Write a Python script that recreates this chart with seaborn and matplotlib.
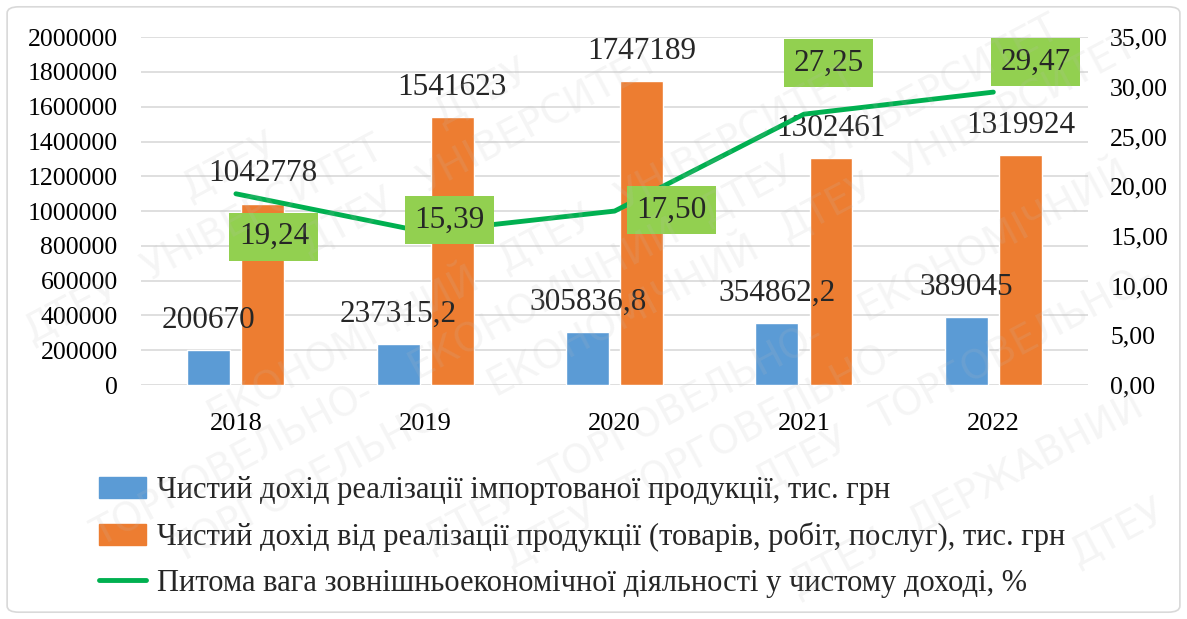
import numpy as np
import pandas as pd
import seaborn as sns
import matplotlib.pyplot as plt
from matplotlib.patches import FancyBboxPatch, Patch
from matplotlib.lines import Line2D
from matplotlib.ticker import FuncFormatter

# data
years = ["2018", "2019", "2020", "2021", "2022"]
imported = [200670, 237315.2, 305836.8, 354862.2, 389045]
total = [1042778, 1541623, 1747189, 1302461, 1319924]
share = [19.24, 15.39, 17.50, 27.25, 29.47]

name_imp = "Чистий дохід реалізації імпортованої продукції, тис. грн"
name_tot = "Чистий дохід від реалізації продукції (товарів, робіт, послуг), тис. грн"
name_share = "Питома вага зовнішньоекономічної діяльності у чистому доході, %"
watermark_words = ["ДТЕУ", "ДЕРЖАВНИЙ", "ДТЕУ", "ТОРГОВЕЛЬНО-", "ЕКОНОМІЧНИЙ",
                   "ДТЕУ", "УНІВЕРСИТЕТ"]

blue = "#5B9BD5"
orange = "#ED7D31"
green = "#00B050"
box_green = "#92D050"

df = pd.DataFrame({
    "year": years * 2,
    "value": imported + total,
    "series": [name_imp] * len(years) + [name_tot] * len(years),
})

sns.set_theme(style="white")
plt.rcParams["font.family"] = ["Liberation Serif", "DejaVu Serif"]

fig = plt.figure(figsize=(11.87, 6.19), dpi=100)
ax = fig.add_axes([0.119, 0.378, 0.7976, 0.562])

sns.barplot(data=df, x="year", y="value", hue="series", palette=[blue, orange],
            width=0.571, gap=0.205, ax=ax, legend=False, saturation=1)

ax.set_ylim(0, 2000000)
ax.set_yticks(np.arange(0, 2000001, 200000))
ax.yaxis.set_major_formatter(FuncFormatter(lambda v, p: f"{int(v)}"))
ax.grid(axis="y", color="#D9D9D9", linewidth=1.2)
ax.set_axisbelow(True)
for s in ax.spines.values():
    s.set_visible(False)
ax.set_xlabel("")
ax.set_ylabel("")
ax.tick_params(axis="y", length=0, pad=17, labelsize=18.5, labelcolor="black")
ax.tick_params(axis="x", length=0, pad=20, labelsize=19, labelcolor="black")

fmt = lambda v: (f"{v:.1f}".replace(".", ",") if v % 1 else f"{int(v)}")
ax.bar_label(ax.containers[0], labels=[fmt(v) for v in imported],
             padding=11, fontsize=22.5, family="Liberation Serif")
ax.bar_label(ax.containers[1], labels=[fmt(v) for v in total],
             padding=11, fontsize=22.5, family="Liberation Serif")

# secondary axis with share line
ax2 = ax.twinx()
xs = np.arange(len(years))
sns.lineplot(x=xs, y=share, color=green, linewidth=3.5, ax=ax2)
ax2.set_ylim(0, 35)
ax2.set_yticks(np.arange(0, 35.1, 5))
ax2.yaxis.set_major_formatter(FuncFormatter(lambda v, p: f"{v:.2f}".replace(".", ",")))
ax2.tick_params(axis="y", length=0, pad=16, labelsize=18.5, labelcolor="black")
ax2.grid(False)
for s in ax2.spines.values():
    s.set_visible(False)
ax.set_xlim(-0.5, len(years) - 0.5)

label_offsets = [(38, -43), (24, 12), (57, 1), (25, 51), (42, 30)]
for x, v, off in zip(xs, share, label_offsets):
    ax2.annotate(f"{v:.2f}".replace(".", ","), (x, v), xytext=off,
                 textcoords="offset pixels", ha="center", va="center",
                 fontsize=22.5, family="Liberation Serif",
                 bbox=dict(boxstyle="square,pad=0.3", fc=box_green, ec="none"))

# legend
handles = [Patch(color=blue), Patch(color=orange),
           Line2D([0], [0], color=green, linewidth=3.5)]
fig.legend(handles, [name_imp, name_tot, name_share], loc="upper left",
           bbox_to_anchor=(0.073, 0.25), frameon=False, fontsize=22,
           handlelength=1.55, handletextpad=0.35, labelspacing=0.55,
           borderaxespad=0)

# watermark: short words along diagonal bands, kept fully inside the figure
W, H = fig.bbox.width, fig.bbox.height
ang = np.deg2rad(28)
d = np.array([np.cos(ang), np.sin(ang)])
fs = 28
wm_texts = []
for k in range(-8, 12):
    p = np.array([-300.0 + (k % 3) * 40, k * 80.0 - 200])
    i = k
    while p[0] < W + 50:
        word = watermark_words[i % len(watermark_words)]
        t = fig.text(p[0] / W, p[1] / H, word, rotation=28, rotation_mode="anchor",
                     fontsize=fs, family="DejaVu Sans", color="#BDBDBD", alpha=0.15,
                     ha="left", va="baseline", zorder=10)
        wm_texts.append(t)
        p = p + d * (len(word) * 0.72 * fs * 100 / 72 + 22)
        i += 1

fig.canvas.draw()
r = fig.canvas.get_renderer()
for t in wm_texts:
    bb = t.get_window_extent(r)
    if bb.x0 < 3 or bb.y0 < 3 or bb.x1 > W - 3 or bb.y1 > H - 3:
        t.remove()

fig.patches.append(FancyBboxPatch((0.006, 0.011), 0.988, 0.978,
                                  boxstyle="round,pad=0,rounding_size=0.01",
                                  transform=fig.transFigure, fc="none",
                                  ec="#D9D9D9", lw=1.2))

fig.savefig("out.png", dpi=100)
